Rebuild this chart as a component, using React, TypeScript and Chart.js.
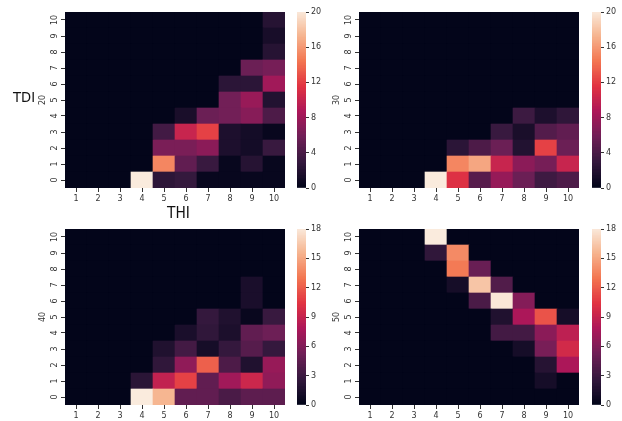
import React, { useEffect, useRef } from "react";
import { Chart, registerables } from "chart.js";

Chart.register(...registerables);

// ---------- data ----------
const thiLabels = ["1", "2", "3", "4", "5", "6", "7", "8", "9", "10"];
const tdiLevels = [0, 1, 2, 3, 4, 5, 6, 7, 8, 9, 10];
const panelTitles = ["20", "30", "40", "50"];
const panelMax = [20, 20, 18, 18];
const colorbarSteps = [4, 4, 3, 3];

// rows = TDI 0..10 (bottom to top), columns = THI 1..10
const tdi20 = [
  [0, 0, 0, 20, 2.4, 2.8, 0.3, 0.3, 0.3, 0.3],
  [0, 0, 0, 0, 15, 5, 3, 0.3, 2, 0.3],
  [0, 0, 0, 0, 6.2, 6.2, 7, 1.5, 1, 3],
  [0, 0, 0, 0, 3.5, 10, 12, 1.5, 1, 0.3],
  [0, 0, 0, 0, 0, 1.3, 5.5, 5.8, 6.8, 4],
  [0, 0, 0, 0, 0, 0, 0, 5.8, 7.6, 1.8],
  [0, 0, 0, 0, 0, 0, 0, 2.3, 2.3, 8],
  [0, 0, 0, 0, 0, 0, 0, 0, 5.5, 6],
  [0, 0, 0, 0, 0, 0, 0, 0, 0, 2],
  [0, 0, 0, 0, 0, 0, 0, 0, 0, 1.2],
  [0, 0, 0, 0, 0, 0, 0, 0, 0, 2],
];
const tdi30 = [
  [0, 0, 0, 20, 11.2, 4.5, 7.5, 5.5, 3.3, 4],
  [0, 0, 0, 0, 15, 16.5, 10, 7, 6, 10],
  [0, 0, 0, 0, 2.3, 4, 5.5, 1.8, 12, 5.5],
  [0, 0, 0, 0, 0, 0, 3, 1.3, 4.3, 5],
  [0, 0, 0, 0, 0, 0, 0, 3.2, 1.5, 2.5],
  [0, 0, 0, 0, 0, 0, 0, 0, 0, 0],
  [0, 0, 0, 0, 0, 0, 0, 0, 0, 0],
  [0, 0, 0, 0, 0, 0, 0, 0, 0, 0],
  [0, 0, 0, 0, 0, 0, 0, 0, 0, 0],
  [0, 0, 0, 0, 0, 0, 0, 0, 0, 0],
  [0, 0, 0, 0, 0, 0, 0, 0, 0, 0],
];
const tdi40 = [
  [0, 0, 0, 18, 15.5, 4.5, 4.5, 3.5, 4.3, 4.3],
  [0, 0, 0, 2, 8.7, 10.8, 4.5, 7.2, 9.2, 6.5],
  [0, 0, 0, 0, 2.3, 6.5, 12, 3.6, 1.5, 6.8],
  [0, 0, 0, 0, 1.5, 3.2, 1, 2.5, 4, 2.5],
  [0, 0, 0, 0, 0, 1.2, 2.3, 1.3, 4.5, 5],
  [0, 0, 0, 0, 0, 0, 2.5, 1.5, 0.3, 2.7],
  [0, 0, 0, 0, 0, 0, 0, 0, 1.2, 0],
  [0, 0, 0, 0, 0, 0, 0, 0, 1.2, 0],
  [0, 0, 0, 0, 0, 0, 0, 0, 0, 0],
  [0, 0, 0, 0, 0, 0, 0, 0, 0, 0],
  [0, 0, 0, 0, 0, 0, 0, 0, 0, 0],
];
const tdi50 = [
  [0, 0, 0, 0, 0, 0, 0, 0, 0, 0],
  [0, 0, 0, 0, 0, 0, 0, 0, 1, 0],
  [0, 0, 0, 0, 0, 0, 0, 0, 1.8, 7.7],
  [0, 0, 0, 0, 0, 0, 0, 1, 5.5, 9.5],
  [0, 0, 0, 0, 0, 0, 3.2, 3.2, 6.3, 8.5],
  [0, 0, 0, 0, 0, 0, 1.5, 7.7, 11.5, 1],
  [0, 0, 0, 0, 0, 3.5, 17.8, 6, 0, 0],
  [0, 0, 0, 0, 1, 16.2, 3.8, 0, 0, 0],
  [0, 0, 0, 0, 13, 4.8, 0, 0, 0, 0],
  [0, 0, 0, 2.3, 13.7, 0, 0, 0, 0, 0],
  [0, 0, 0, 18, 0, 0, 0, 0, 0, 0],
];
const panelData = [tdi20, tdi30, tdi40, tdi50];

// ---------- colour map (seaborn "rocket") ----------
const rocketStops: [number, number, number, number][] = [
  [0.0, 3, 5, 26],
  [0.143, 53, 25, 62],
  [0.286, 112, 31, 87],
  [0.429, 173, 23, 89],
  [0.571, 225, 51, 66],
  [0.714, 243, 118, 81],
  [0.857, 246, 180, 143],
  [1.0, 250, 235, 221],
];
function rocket(t: number): string {
  const v = Math.max(0, Math.min(1, t));
  for (let i = 1; i < rocketStops.length; i++) {
    const a = rocketStops[i - 1];
    const b = rocketStops[i];
    if (v <= b[0]) {
      const f = (v - a[0]) / (b[0] - a[0]);
      const r = Math.round(a[1] + (b[1] - a[1]) * f);
      const g = Math.round(a[2] + (b[2] - a[2]) * f);
      const bl = Math.round(a[3] + (b[3] - a[3]) * f);
      return `rgb(${r},${g},${bl})`;
    }
  }
  return "rgb(250,235,221)";
}

// ---------- layout ----------
const FONT = "'DejaVu Sans', sans-serif";
const TEXT = "#333333";
const CELL_W = 22;
const CELL_H = 16;
const PLOT_W = CELL_W * thiLabels.length;
const PLOT_H = CELL_H * tdiLevels.length;
const AXW = 40;
const AXH = 20;
const PADT = 6;
const PADR = 6;
const panelPos = [
  { left: 65, top: 12, cb: 297 },
  { left: 359, top: 12, cb: 592 },
  { left: 65, top: 229, cb: 297 },
  { left: 359, top: 229, cb: 592 },
];

function Heatmap({ idx }: { idx: number }) {
  const ref = useRef<HTMLCanvasElement | null>(null);
  const matrix = panelData[idx];
  const vmax = panelMax[idx];
  const title = panelTitles[idx];
  useEffect(() => {
    if (!ref.current) return;
    const bgPlugin = {
      id: "bg" + idx,
      beforeDatasetsDraw(chart: any) {
        const a = chart.chartArea;
        chart.ctx.save();
        chart.ctx.fillStyle = rocket(0);
        chart.ctx.fillRect(a.left, a.top, a.right - a.left, a.bottom - a.top);
        chart.ctx.restore();
      },
      afterDraw(chart: any) {
        const ctx = chart.ctx;
        const ys = chart.scales.y;
        const a = chart.chartArea;
        ctx.save();
        ctx.fillStyle = TEXT;
        ctx.font = `8px ${FONT}`;
        ctx.textAlign = "center";
        ctx.textBaseline = "middle";
        tdiLevels.forEach((v) => {
          const py = ys.getPixelForValue(v);
          ctx.save();
          ctx.translate(a.left - 10, py);
          ctx.rotate(-Math.PI / 2);
          ctx.fillText(String(v), 0, 0);
          ctx.restore();
        });
        ctx.save();
        ctx.translate(a.left - 22.5, (a.top + a.bottom) / 2);
        ctx.rotate(-Math.PI / 2);
        ctx.fillText(title, 0, 0);
        ctx.restore();
        ctx.restore();
      },
    };
    const chart = new Chart(ref.current, {
      type: "bar",
      data: {
        labels: thiLabels,
        datasets: tdiLevels.map((y) => ({
          label: "TDI " + y,
          data: thiLabels.map(() => [y - 0.5, y + 0.5]) as any,
          backgroundColor: matrix[y].map((v) => rocket(v / vmax)),
          borderWidth: 0,
          categoryPercentage: 1,
          barPercentage: 1,
          grouped: false,
        })),
      },
      options: {
        animation: false,
        responsive: false,
        devicePixelRatio: 1,
        events: [],
        layout: { padding: { left: 0, top: PADT, right: PADR, bottom: 0 } },
        plugins: { legend: { display: false }, tooltip: { enabled: false } },
        scales: {
          x: {
            stacked: true,
            offset: true,
            grid: { offset: false, drawOnChartArea: false, drawTicks: true, tickLength: 4, color: TEXT },
            border: { display: false },
            ticks: { font: { family: FONT, size: 8 }, color: TEXT, padding: 2, maxRotation: 0, autoSkip: false },
            afterFit: (s: any) => {
              s.height = AXH;
            },
          },
          y: {
            min: -0.5,
            max: 10.5,
            stacked: false,
            afterBuildTicks: (s: any) => {
              s.ticks = tdiLevels.map((v) => ({ value: v }));
            },
            grid: { drawOnChartArea: false, drawTicks: true, tickLength: 4, color: TEXT },
            border: { display: false },
            ticks: { display: false },
            afterFit: (s: any) => {
              s.width = AXW;
            },
          },
        },
      } as any,
      plugins: [bgPlugin],
    });
    return () => chart.destroy();
  }, [idx]);
  const p = panelPos[idx];
  return (
    <canvas
      ref={ref}
      width={AXW + PLOT_W + PADR}
      height={PADT + PLOT_H + AXH}
      style={{ position: "absolute", left: p.left - AXW, top: p.top - PADT }}
    />
  );
}

const CB_W = 9;
const CB_AX = 30;
const CB_PAD = 8;
const CB_SLICES = 120;

function Colorbar({ idx }: { idx: number }) {
  const ref = useRef<HTMLCanvasElement | null>(null);
  const vmax = panelMax[idx];
  const step = colorbarSteps[idx];
  useEffect(() => {
    if (!ref.current) return;
    const h = vmax / CB_SLICES;
    const datasets = [] as any[];
    for (let i = 0; i < CB_SLICES; i++) {
      const lo = i * h;
      const hi = i === CB_SLICES - 1 ? vmax : lo + h * 1.6;
      datasets.push({
        data: [[lo, hi]],
        backgroundColor: rocket((lo + h / 2) / vmax),
        borderWidth: 0,
        categoryPercentage: 1,
        barPercentage: 1,
        grouped: false,
      });
    }
    const chart = new Chart(ref.current, {
      type: "bar",
      data: { labels: [""], datasets },
      options: {
        animation: false,
        responsive: false,
        devicePixelRatio: 1,
        events: [],
        layout: { padding: { left: 0, top: CB_PAD, right: 0, bottom: CB_PAD } },
        plugins: { legend: { display: false }, tooltip: { enabled: false } },
        scales: {
          x: { display: false, stacked: true },
          y: {
            position: "right",
            min: 0,
            max: vmax,
            stacked: false,
            ticks: { stepSize: step, font: { family: FONT, size: 8 }, color: TEXT, padding: 2 },
            grid: { drawOnChartArea: false, drawTicks: true, tickLength: 3, color: TEXT },
            border: { display: false },
            afterFit: (s: any) => {
              s.width = CB_AX;
            },
          },
        },
      } as any,
    });
    return () => chart.destroy();
  }, [idx]);
  const p = panelPos[idx];
  return (
    <canvas
      ref={ref}
      width={CB_W + CB_AX}
      height={PLOT_H + 2 * CB_PAD}
      style={{ position: "absolute", left: p.cb, top: p.top - CB_PAD }}
    />
  );
}

export default function App() {
  return (
    <div
      style={{
        position: "fixed",
        left: 0,
        top: 0,
        width: 622,
        height: 421,
        background: "#ffffff",
        overflow: "hidden",
      }}
    >
      {[0, 1, 2, 3].map((i) => (
        <React.Fragment key={i}>
          <Heatmap idx={i} />
          <Colorbar idx={i} />
        </React.Fragment>
      ))}
      <div
        style={{
          position: "absolute",
          left: 13,
          top: 90,
          font: `14px ${FONT}`,
          lineHeight: "14px",
          color: "#111",
          whiteSpace: "nowrap",
          transform: "scaleX(0.94)",
          transformOrigin: "left center",
        }}
      >
        TDI
      </div>
      <div
        style={{
          position: "absolute",
          left: 167,
          top: 205,
          font: `16px ${FONT}`,
          lineHeight: "16px",
          color: "#111",
          whiteSpace: "nowrap",
          transform: "scaleX(0.86)",
          transformOrigin: "left center",
        }}
      >
        THI
      </div>
    </div>
  );
}
